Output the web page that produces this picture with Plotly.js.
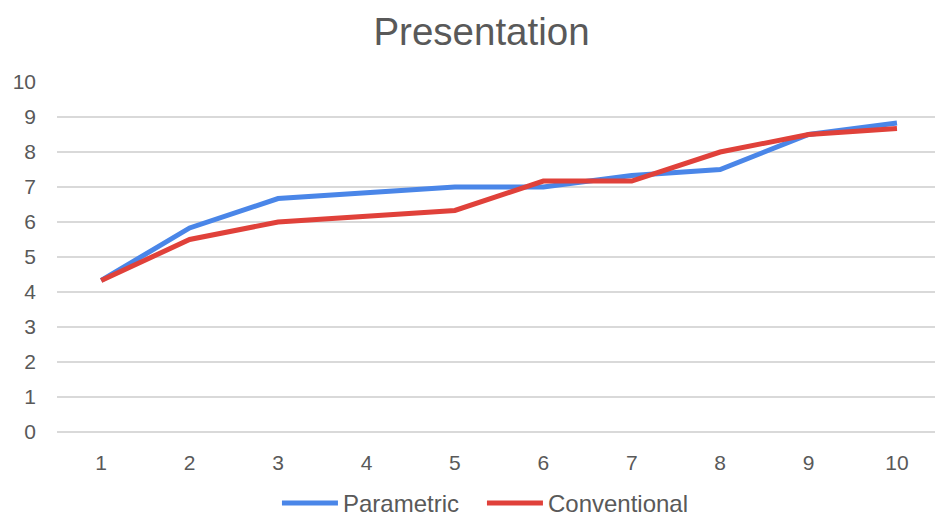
<!DOCTYPE html>
<html>
<head>
<meta charset="utf-8">
<script src="https://cdn.plot.ly/plotly-3.0.1.min.js"></script>
<style>html,body{margin:0;padding:0;background:#fff;}#chart{width:935px;height:518px;}</style>
</head>
<body>
<div id="chart"></div>
<script>
const categories = [1, 2, 3, 4, 5, 6, 7, 8, 9, 10];
const parametric = [4.33, 5.83, 6.67, 6.83, 7.0, 7.0, 7.33, 7.5, 8.5, 8.83];
const conventional = [4.33, 5.5, 6.0, 6.17, 6.33, 7.17, 7.17, 8.0, 8.5, 8.67];
const yTicks = [0, 1, 2, 3, 4, 5, 6, 7, 8, 9, 10];

const font = "Liberation Sans, Arial, sans-serif";
const traces = [
  {x: categories, y: parametric, name: 'Parametric', type: 'scatter', mode: 'lines',
   line: {color: '#4a86e8', width: 5}},
  {x: categories, y: conventional, name: 'Conventional', type: 'scatter', mode: 'lines',
   line: {color: '#e0413a', width: 5}}
];
const layout = {
  width: 935, height: 518,
  margin: {l: 57, r: 0, t: 82, b: 86, autoexpand: false},
  paper_bgcolor: '#fff', plot_bgcolor: '#fff',
  title: {text: 'Presentation', font: {family: font, size: 38.5, color: '#595959'}, x: 0.515, xanchor: 'center', y: 0.94, yanchor: 'middle'},
  xaxis: {range: [0.5, 10.43], tickvals: categories, ticktext: categories.map(String), showgrid: false, zeroline: false,
          tickfont: {family: font, size: 21, color: '#595959'}, ticks: '', ticklabelstandoff: 16},
  yaxis: {range: [0, 10], tickvals: yTicks, ticktext: yTicks.map(String), showgrid: true, gridcolor: '#d9d9d9', gridwidth: 1.5,
          zeroline: true, zerolinecolor: '#d9d9d9', zerolinewidth: 1.5,
          tickfont: {family: font, size: 21, color: '#595959'}, ticks: '', ticklabelstandoff: 20},
  showlegend: true,
  legend: {orientation: 'h', x: 0.484, xanchor: 'center', y: -0.14, yanchor: 'top',
           font: {family: font, size: 24, color: '#595959'}, itemwidth: 56, entrywidth: 134}
};
Plotly.newPlot('chart', traces, layout, {displayModeBar: false, staticPlot: true}).then(function (gd) {
  // lengthen the legend sample lines to match the reference look
  gd.querySelectorAll('.legendlines path').forEach(function (p) {
    p.setAttribute('d', 'M5,0h56');
  });
  // do not clip the legend at the bottom edge
  gd.querySelectorAll('.legend .scrollbox').forEach(function (el) {
    el.removeAttribute('clip-path');
  });
});
</script>
</body>
</html>
